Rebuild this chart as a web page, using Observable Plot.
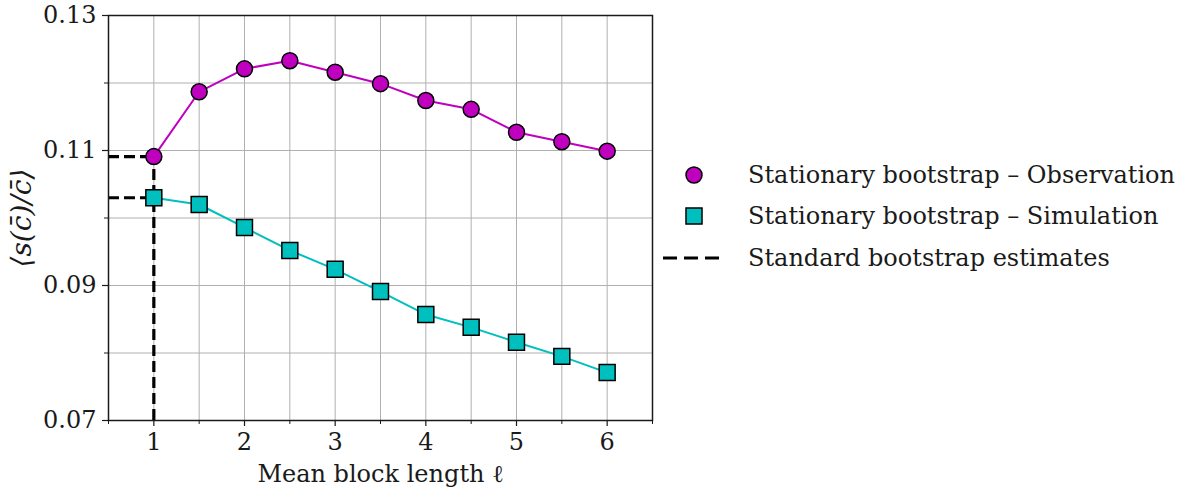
<!DOCTYPE html>
<html><head><meta charset="utf-8">
<script src="https://cdn.jsdelivr.net/npm/d3@7"></script>
<script src="https://cdn.jsdelivr.net/npm/@observablehq/plot@0.6"></script>
<style>
body{margin:0;background:#fff;font-family:"DejaVu Serif",serif;}
#wrap{position:relative;width:1185px;height:489px;overflow:hidden;}
#chart{position:absolute;left:0;top:0;}
#legend{position:absolute;left:660px;top:154px;font-size:24px;color:#1a1a1a;white-space:nowrap;font-family:"DejaVu Serif",serif;}
.row{display:flex;align-items:center;height:41.5px;}
.row svg{flex:none;}
</style></head><body><div id="wrap"><div id="chart"></div><div id="legend"></div></div>
<script>
const blockLength = [1, 1.5, 2, 2.5, 3, 3.5, 4, 4.5, 5, 5.5, 6];
const observation = [0.1091, 0.1187, 0.1221, 0.1233, 0.1216, 0.1199, 0.1174, 0.1161, 0.1127, 0.1113, 0.1099];
const simulation = [0.1030, 0.1020, 0.0986, 0.0952, 0.0924, 0.0891, 0.0857, 0.0838, 0.0816, 0.0795, 0.0771];
const standardObservation = 0.1091;
const standardSimulation = 0.1030;
const standardLength = 1;

const xTicks = [1, 2, 3, 4, 5, 6];
const xMinorTicks = [0.5, 1.5, 2.5, 3.5, 4.5, 5.5, 6.5];
const xGrid = [1, 1.5, 2, 2.5, 3, 3.5, 4, 4.5, 5, 5.5, 6];
const yTicks = [0.07, 0.09, 0.11, 0.13];
const yTickLabels = ["0.07", "0.09", "0.11", "0.13"];
const yMinorTicks = [0.08, 0.10, 0.12];
const yGrid = [0.08, 0.09, 0.10, 0.11, 0.12];

const seriesNames = ["Stationary bootstrap \u2013 Observation", "Stationary bootstrap \u2013 Simulation", "Standard bootstrap estimates"];
const xLabel = "Mean block length \u2113";
const yLabel = "\u27E8s(c\u0304)/c\u0304\u27E9";

const colObs = "#bf00bf", colSim = "#00bfbf";

const obsData = blockLength.map((x, i) => ({x, y: observation[i]}));
const simData = blockLength.map((x, i) => ({x, y: simulation[i]}));

const plot = Plot.plot({
  width: 660, height: 489,
  marginLeft: 108, marginRight: 8, marginTop: 15, marginBottom: 69,
  style: {fontFamily: "'DejaVu Serif', serif", fontSize: "24px", color: "#1a1a1a", background: "transparent"},
  x: {domain: [0.5, 6.5]},
  y: {domain: [0.07, 0.13]},
  marks: [
    Plot.gridX(xGrid, {stroke: "#b0b0b0", strokeOpacity: 1, strokeWidth: 1}),
    Plot.gridY(yGrid, {stroke: "#b0b0b0", strokeOpacity: 1, strokeWidth: 1}),
    Plot.axisX(xTicks, {tickSize: 6, tickPadding: 6, label: null, strokeWidth: 1.2}),
    Plot.axisX(xMinorTicks, {tickSize: 4, tickFormat: () => "", label: null, strokeWidth: 1}),
    Plot.axisY(yTicks, {tickSize: 6, tickPadding: 6, label: null, tickFormat: (d) => yTickLabels[yTicks.indexOf(d)], strokeWidth: 1.2}),
    Plot.axisY(yMinorTicks, {tickSize: 4, tickFormat: () => "", label: null, strokeWidth: 1}),
    Plot.ruleY([standardObservation, standardSimulation], {y: d => d, x1: 0.5, x2: standardLength, stroke: "black", strokeWidth: 3.2, strokeDasharray: "11,5"}),
    Plot.ruleX([standardLength], {x: d => d, y1: 0.07, y2: standardObservation, stroke: "black", strokeWidth: 3.2, strokeDasharray: "11,5"}),
    Plot.line(obsData, {x: "x", y: "y", stroke: colObs, strokeWidth: 2}),
    Plot.line(simData, {x: "x", y: "y", stroke: colSim, strokeWidth: 2}),
    Plot.dot(obsData, {x: "x", y: "y", r: 8, fill: colObs, stroke: "black", strokeWidth: 1.5, symbol: "circle"}),
    Plot.dot(simData, {x: "x", y: "y", r: 9, fill: colSim, stroke: "black", strokeWidth: 1.5, symbol: "square"}),
    Plot.frame({stroke: "#1a1a1a", strokeWidth: 1.5}),
    Plot.text([xLabel], {text: d => d, frameAnchor: "bottom", dy: 54, lineAnchor: "middle", textAnchor: "middle", fontSize: 24, fill: "#1a1a1a"}),
    Plot.text([yLabel], {text: d => d, frameAnchor: "left", dx: -86, rotate: -90, lineAnchor: "middle", textAnchor: "middle", fontSize: 28, fontStyle: "italic", fill: "#1a1a1a"})
  ]
});
document.getElementById("chart").appendChild(plot);

const legend = document.getElementById("legend");
const swatches = [
  `<circle cx="34" cy="20" r="8" fill="${colObs}" stroke="black" stroke-width="1.5"/>`,
  `<rect x="26" y="12" width="16" height="16" fill="${colSim}" stroke="black" stroke-width="1.5"/>`,
  `<line x1="3" x2="62" y1="20" y2="20" stroke="black" stroke-width="3.2" stroke-dasharray="14,7"/>`
];
seriesNames.forEach((name, i) => {
  const row = document.createElement("div");
  row.className = "row";
  row.innerHTML = `<svg width="88" height="40">${swatches[i]}</svg><span>${name}</span>`;
  legend.appendChild(row);
});
</script>
</body></html>
